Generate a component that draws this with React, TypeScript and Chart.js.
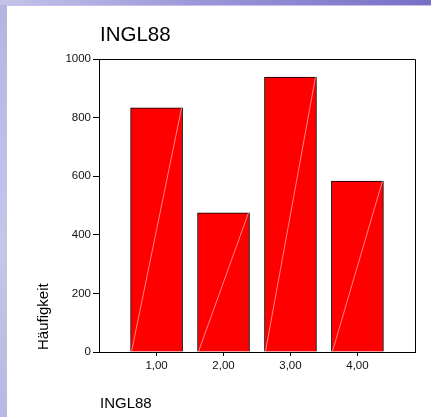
import React, { useEffect, useRef } from "react";
import { Chart, registerables } from "chart.js";

Chart.register(...registerables);

const chartTitle = "INGL88";
const xAxisLabel = "INGL88";
const yAxisLabel = "Häufigkeit";
const categories = [1, 2, 3, 4];
const xTickLabels = ["1,00", "2,00", "3,00", "4,00"];
const counts = [833, 475, 938, 583];
const yTicks = [0, 200, 400, 600, 800, 1000];
const yTickLabels = ["0", "200", "400", "600", "800", "1000"];

const FONT = "'Liberation Sans', Arial, Helvetica, sans-serif";

const decorPlugin = {
  id: "decor",
  afterDatasetsDraw(chart: any) {
    const ctx = chart.ctx;
    const meta = chart.getDatasetMeta(0);
    ctx.save();
    ctx.strokeStyle = "rgba(255,190,190,0.7)";
    ctx.lineWidth = 1;
    meta.data.forEach((bar: any) => {
      const w = bar.width;
      ctx.beginPath();
      ctx.moveTo(bar.x - w / 2 + 1, bar.base);
      ctx.lineTo(bar.x + w / 2 - 1, bar.y);
      ctx.stroke();
    });
    ctx.restore();
  },
  afterDraw(chart: any) {
    const ctx = chart.ctx;
    const a = chart.chartArea;
    ctx.save();
    ctx.strokeStyle = "#000";
    ctx.lineWidth = 1;
    ctx.beginPath();
    ctx.moveTo(Math.round(a.left) + 0.5, Math.round(a.top) + 0.5);
    ctx.lineTo(Math.round(a.right) + 0.5, Math.round(a.top) + 0.5);
    ctx.lineTo(Math.round(a.right) + 0.5, Math.round(a.bottom) + 0.5);
    ctx.stroke();

    ctx.fillStyle = "#000";
    ctx.textAlign = "left";
    ctx.textBaseline = "alphabetic";
    ctx.font = `20.5px ${FONT}`;
    ctx.fillText(chartTitle, a.left + 1, a.top - 18.5);

    ctx.font = `15px ${FONT}`;
    ctx.fillText(xAxisLabel, a.left + 1, a.bottom + 56);

    ctx.translate(a.left - 51.5, a.bottom - 2);
    ctx.rotate(-Math.PI / 2);
    ctx.fillText(yAxisLabel, 0, 0);
    ctx.restore();
  },
};

function BarChart() {
  const ref = useRef<HTMLCanvasElement | null>(null);
  useEffect(() => {
    if (!ref.current) return;
    const chart = new Chart(ref.current, {
      type: "bar",
      data: {
        datasets: [
          {
            data: categories.map((c, i) => ({ x: c, y: counts[i] })) as any,
            backgroundColor: "#ff0000",
            borderColor: "#000",
            borderWidth: 1,
            barThickness: 52,
          },
        ],
      },
      options: {
        responsive: false,
        devicePixelRatio: 1,
        animation: false,
        layout: { padding: { left: 59, top: 59, right: 16, bottom: 35 } },
        plugins: {
          legend: { display: false },
          title: { display: false },
          tooltip: { enabled: false },
        },
        scales: {
          x: {
            type: "linear",
            offset: false,
            min: 0.14,
            max: 4.86,
            afterBuildTicks: (scale: any) => {
              scale.ticks = categories.map((v) => ({ value: v }));
            },
            afterFit: (scale: any) => {
              scale.height = 30;
            },
            ticks: {
              color: "#111",
              font: { family: FONT, size: 11.5 },
              padding: 3,
              maxRotation: 0,
              autoSkip: false,
              callback: (value: any) => {
                const i = categories.indexOf(Number(value));
                return i >= 0 ? xTickLabels[i] : "";
              },
            },
            grid: {
              offset: false,
              drawOnChartArea: false,
              drawTicks: true,
              tickLength: 4,
              color: "#000",
            },
            border: { display: true, color: "#000", width: 1 },
          },
          y: {
            min: 0,
            max: 1000,
            afterBuildTicks: (scale: any) => {
              scale.ticks = yTicks.map((v) => ({ value: v }));
            },
            afterFit: (scale: any) => {
              scale.width = 40;
            },
            ticks: {
              color: "#111",
              font: { family: FONT, size: 11.5 },
              padding: 2,
              callback: (value: any) => {
                const i = yTicks.indexOf(Number(value));
                return i >= 0 ? yTickLabels[i] : "";
              },
            },
            grid: {
              drawOnChartArea: false,
              drawTicks: true,
              tickLength: 6,
              color: "#000",
            },
            border: { display: true, color: "#000", width: 1 },
          },
        },
      },
      plugins: [decorPlugin],
    });
    return () => chart.destroy();
  }, []);
  return (
    <canvas
      ref={ref}
      width={431}
      height={417}
      style={{ position: "absolute", left: 0, top: 0, width: 431, height: 417 }}
    />
  );
}

export default function App() {
  return (
    <div
      style={{
        position: "fixed",
        left: 0,
        top: 0,
        width: 431,
        height: 417,
        overflow: "hidden",
        background: "linear-gradient(to bottom, #b4b4e2, #c6c6ec 60%, #b8b8e0)",
      }}
    >
      <div
        style={{
          position: "absolute",
          left: 0,
          top: 0,
          width: 431,
          height: 5,
          background: "linear-gradient(to right, #c4c4ea, #9c98d8 45%, #7670c6)",
        }}
      />
      <div
        style={{
          position: "absolute",
          left: 7,
          top: 5,
          width: 424,
          height: 412,
          background: "#fff",
          borderTop: "1px solid #c8c0f0",
          boxSizing: "border-box",
        }}
      />
      <BarChart />
    </div>
  );
}
